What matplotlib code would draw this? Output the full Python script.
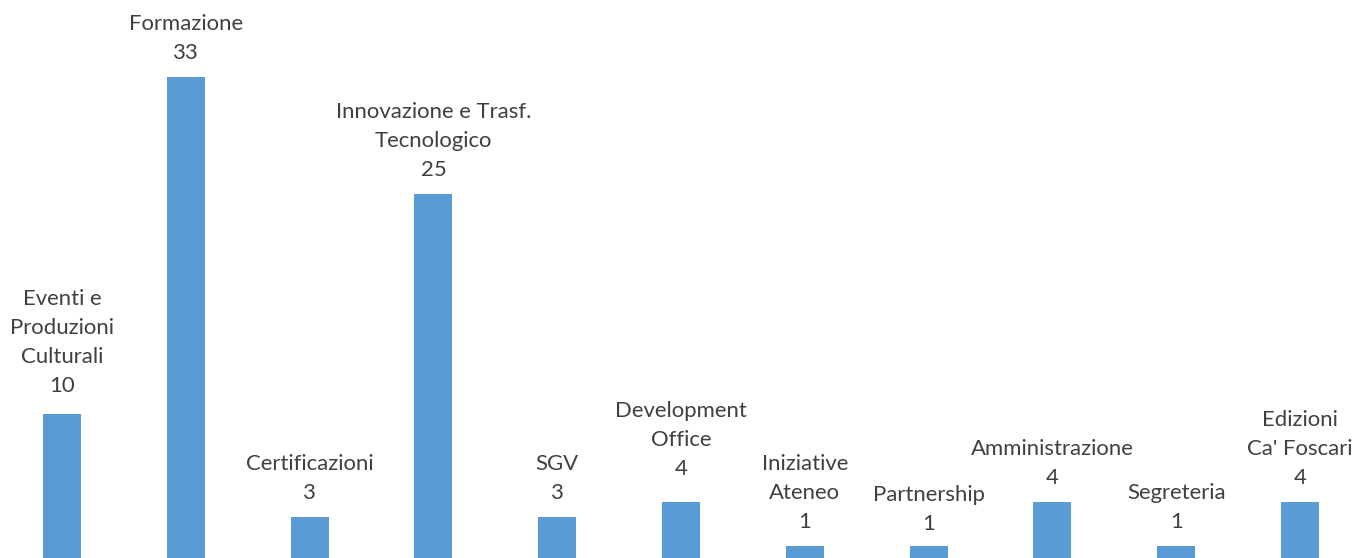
import matplotlib
matplotlib.use("Agg")
import matplotlib.pyplot as plt

categories = [
    "Eventi e\nProduzioni\nCulturali",
    "Formazione",
    "Certificazioni",
    "Innovazione e Trasf.\nTecnologico",
    "SGV",
    "Development\nOffice",
    "Iniziative\nAteneo",
    "Partnership",
    "Amministrazione",
    "Segreteria",
    "Edizioni\nCa' Foscari",
]
values = [10, 33, 3, 25, 3, 4, 1, 1, 4, 1, 4]

# layout constants (pixel nudges for individual labels)
label_extra_px = [4, 0, 0, 0, 0, 9, 0, -2, 0, 0, 0]

BAR_COLOR = "#5B9BD5"
TEXT_COLOR = "#404040"
FONT = "Lato"
FS = 15.9
PX = 0.72  # points per pixel at dpi 100
GAP_PX = 18
LINE_PX = 29

fig = plt.figure(figsize=(13.71, 5.58), dpi=100)
ax = fig.add_axes([0, 0, 1, 1])
x = list(range(len(values)))
ax.bar(x, values, width=0.307, color=BAR_COLOR)
ax.set_xlim(-0.5008, 10.573)
ax.set_ylim(0.184, 38.25)
ax.axis("off")

for xi, (cat, v, extra) in enumerate(zip(categories, values, label_extra_px)):
    lines = cat.split("\n") + [str(v)]
    for k, line in enumerate(reversed(lines)):
        off = (GAP_PX + extra + k * LINE_PX) * PX
        ax.annotate(line, xy=(xi, v), xytext=(0, off), textcoords="offset points",
                    ha="center", va="baseline", fontsize=FS, family=FONT,
                    color=TEXT_COLOR, annotation_clip=False)

fig.savefig("out.png", dpi=100)
